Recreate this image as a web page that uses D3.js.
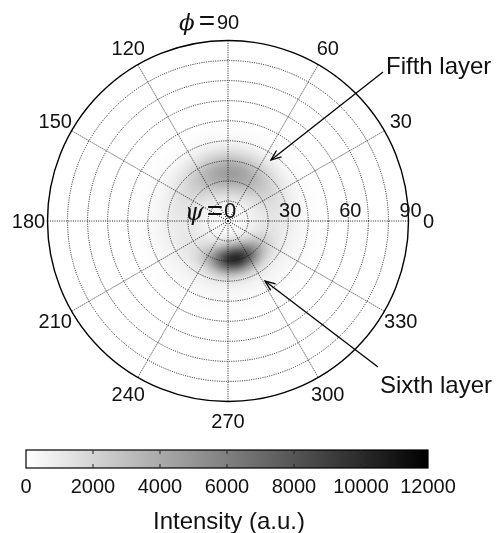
<!DOCTYPE html>
<html>
<head>
<meta charset="utf-8">
<script src="https://cdn.jsdelivr.net/npm/d3@7"></script>
<style>
  body { margin: 0; background: #fff; }
  #chart { position: relative; width: 500px; height: 533px; }
  #chart canvas, #chart svg { position: absolute; left: 0; top: 0; }
  text { font-family: "Liberation Sans", Arial, sans-serif; fill: #111; }
</style>
</head>
<body>
<div id="chart"></div>
<script>
// polar axes
const phiTicks = [0, 30, 60, 90, 120, 150, 180, 210, 240, 270, 300, 330]
const psiRings = [10, 20, 30, 40, 50, 60, 70, 80, 90]
const psiLabels = [0, 30, 60, 90]

// intensity peaks (psi, phi in degrees)
const peakNames = ["Fifth layer", "Sixth layer"]
const peakPsi = [24, 19]
const peakPhi = [87, 281]
const peakAmp = [3600, 9200]
const peakSigmaPsi = [7, 4.8]
const peakSigmaPhi = [34, 26]
// weak diffuse ring around both layers
const haloPsi = 22
const haloAmp = 1000
const haloSigma = 10

// colour bar
const barTicks = [0, 2000, 4000, 6000, 8000, 10000, 12000]
const barLabel = "Intensity (a.u.)"

const width = 500, height = 533
const cx = 228, cy = 221, R = 180.5

const rScale = d3.scaleLinear().domain([0, 90]).range([0, R])
const colour = d3.scaleLinear().domain([0, 12000]).range(["#ffffff", "#000000"]).clamp(true)

function intensity(psi, phi) {
    let v = haloAmp * Math.exp(-Math.pow(psi - haloPsi, 2) / (2 * haloSigma * haloSigma))
    for (let i = 0; i < peakPsi.length; i++) {
        let dphi = Math.abs(phi - peakPhi[i]) % 360
        if (dphi > 180) dphi = 360 - dphi
        v += peakAmp[i]
            * Math.exp(-Math.pow(psi - peakPsi[i], 2) / (2 * peakSigmaPsi[i] * peakSigmaPsi[i]))
            * Math.exp(-dphi * dphi / (2 * peakSigmaPhi[i] * peakSigmaPhi[i]))
    }
    return v
}

// heat map on a canvas under the svg
const canvas = d3.select("#chart").append("canvas")
    .attr("width", width).attr("height", height)
const ctx = canvas.node().getContext("2d")
const img = ctx.createImageData(width, height)
for (let y = 0; y < height; y++) {
    for (let x = 0; x < width; x++) {
        let dx = x + 0.5 - cx, dy = y + 0.5 - cy
        let r = Math.sqrt(dx * dx + dy * dy)
        if (r > R) continue
        let psi = rScale.invert(r)
        let phi = Math.atan2(-dy, dx) * 180 / Math.PI
        if (phi < 0) phi += 360
        let c = d3.rgb(colour(intensity(psi, phi)))
        let k = (y * width + x) * 4
        img.data[k] = c.r; img.data[k + 1] = c.g; img.data[k + 2] = c.b; img.data[k + 3] = 255
    }
}
ctx.putImageData(img, 0, 0)

const svg = d3.select("#chart").append("svg")
    .attr("width", width).attr("height", height)

const g = svg.append("g").attr("transform", "translate(" + cx + "," + cy + ")")

// dotted rings
g.selectAll(".ring")
    .data(psiRings.filter(d => d < 90))
    .enter().append("circle")
    .attr("r", d => rScale(d))
    .attr("fill", "none")
    .attr("stroke", "#1a1a1a")
    .attr("stroke-width", 1)
    .attr("stroke-dasharray", "1,1.3")

// dotted spokes
g.selectAll(".spoke")
    .data(phiTicks)
    .enter().append("line")
    .attr("x1", 0).attr("y1", 0)
    .attr("x2", d => R * Math.cos(d * Math.PI / 180))
    .attr("y2", d => -R * Math.sin(d * Math.PI / 180))
    .attr("stroke", "#1a1a1a")
    .attr("stroke-width", 1)
    .attr("stroke-dasharray", "1,1.3")

// outer circle
g.append("circle").attr("r", rScale(90))
    .attr("fill", "none").attr("stroke", "#000").attr("stroke-width", 1.4)

// phi labels
const labR = R + 19
phiTicks.forEach(d => {
    let a = d * Math.PI / 180
    let x = labR * Math.cos(a), y = -labR * Math.sin(a)
    if (d === 0) x += 1
    g.append("text")
        .attr("x", x).attr("y", y)
        .attr("dy", "0.36em")
        .attr("text-anchor", "middle")
        .style("font-size", "20px")
        .text(d)
    if (d === 90) {
        g.append("text")
            .attr("x", x - 13).attr("y", y)
            .attr("dy", "0.36em")
            .attr("text-anchor", "end")
            .style("font-size", "23px")
            .html('<tspan style="font-family:\'DejaVu Serif\';font-style:italic">ϕ</tspan><tspan dx="4" style="font-size:28px">=</tspan>')
    }
})

// psi labels along phi = 0
psiLabels.forEach(d => {
    g.append("text")
        .attr("x", rScale(d) + 2).attr("y", -11)
        .attr("dy", "0.36em")
        .attr("text-anchor", "middle")
        .style("font-size", d === 0 ? "22px" : "20px")
        .text(d)
})
g.append("text")
    .attr("x", -5).attr("y", -10)
    .attr("dy", "0.36em")
    .attr("text-anchor", "end")
    .style("font-size", "24px")
    .html('<tspan style="font-family:\'DejaVu Serif\';font-style:italic">ψ</tspan><tspan dx="3" style="font-size:28px">=</tspan>')

// annotations with open arrow heads
const notes = [
    { text: peakNames[0], tx: 386, ty: 74, x1: 383, y1: 72, x2: 271, y2: 160 },
    { text: peakNames[1], tx: 380, ty: 393, x1: 378, y1: 367, x2: 265, y2: 281 }
]
notes.forEach(n => {
    svg.append("line")
        .attr("x1", n.x1).attr("y1", n.y1).attr("x2", n.x2).attr("y2", n.y2)
        .attr("stroke", "#000").attr("stroke-width", 1.3)
    let ang = Math.atan2(n.y1 - n.y2, n.x1 - n.x2)
    let head = [ang - 0.38, ang + 0.38].map(a => [n.x2 + 11 * Math.cos(a), n.y2 + 11 * Math.sin(a)])
    svg.append("path")
        .attr("d", "M" + head[0] + "L" + n.x2 + "," + n.y2 + "L" + head[1])
        .attr("fill", "none").attr("stroke", "#000").attr("stroke-width", 1.3)
    svg.append("text")
        .attr("x", n.tx).attr("y", n.ty)
        .style("font-size", "24px")
        .text(n.text)
})

// colour bar
const barX = d3.scaleLinear().domain([0, 12000]).range([26, 428])
const barY = 450, barH = 18
const grad = svg.append("defs").append("linearGradient").attr("id", "grey")
grad.append("stop").attr("offset", "0%").attr("stop-color", colour(0))
grad.append("stop").attr("offset", "100%").attr("stop-color", colour(12000))
svg.append("rect")
    .attr("x", barX(0)).attr("y", barY)
    .attr("width", barX(12000) - barX(0)).attr("height", barH)
    .attr("fill", "url(#grey)")
    .attr("stroke", "#000").attr("stroke-width", 1.2)
svg.selectAll(".btick")
    .data(barTicks.slice(1, -1))
    .enter().append("path")
    .attr("d", d => "M" + barX(d) + "," + barY + "v4M" + barX(d) + "," + (barY + barH) + "v-4")
    .attr("stroke", "#222").attr("stroke-width", 1)
svg.selectAll(".blab")
    .data(barTicks)
    .enter().append("text")
    .attr("x", d => barX(d)).attr("y", 493)
    .attr("text-anchor", "middle")
    .style("font-size", "20px")
    .text(d => d)
svg.append("text")
    .attr("x", 229).attr("y", 529)
    .attr("text-anchor", "middle")
    .style("font-size", "24px")
    .text(barLabel)
</script>
</body>
</html>
